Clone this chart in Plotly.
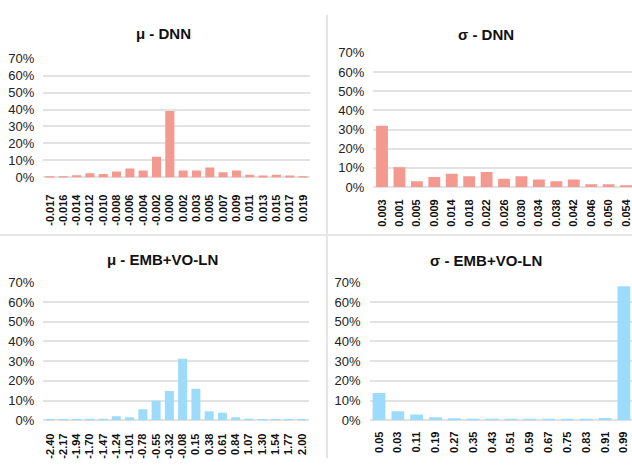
import plotly.graph_objects as go

W, H = 632, 470

mu_dnn_cats = ["-0.017", "-0.016", "-0.014", "-0.012", "-0.010", "-0.008", "-0.006", "-0.004",
               "-0.002", "0.000", "0.002", "0.003", "0.005", "0.007", "0.009", "0.011",
               "0.013", "0.015", "0.017", "0.019"]
mu_dnn_vals = [0.5, 0.5, 1.2, 2.5, 2.0, 3.4, 5.3, 4.0, 12.1, 39.1, 4.0, 4.0, 5.9, 3.0, 4.0,
               1.5, 1.1, 1.5, 1.1, 0.5]

sig_dnn_cats = ["0.003", "0.001", "0.005", "0.009", "0.014", "0.018", "0.022", "0.026", "0.030",
                "0.034", "0.038", "0.042", "0.046", "0.050", "0.054"]
sig_dnn_vals = [32.0, 10.4, 3.0, 5.2, 6.9, 5.7, 7.9, 4.4, 5.7, 4.0, 3.0, 4.0, 1.5, 1.5, 1.0]

mu_emb_cats = ["-2.40", "-2.17", "-1.94", "-1.70", "-1.47", "-1.24", "-1.01", "-0.78", "-0.55",
               "-0.32", "-0.08", "0.15", "0.38", "0.61", "0.84", "1.07", "1.30", "1.54",
               "1.77", "2.00"]
mu_emb_vals = [0.3, 0.3, 0.3, 0.8, 0.8, 2.1, 1.6, 5.7, 10.0, 14.9, 31.3, 16.0, 4.6, 3.9, 1.6,
               0.8, 0.3, 0.3, 0.3, 0.3]

sig_emb_cats = ["0.05", "0.03", "0.11", "0.19", "0.27", "0.35", "0.43", "0.51", "0.59", "0.67",
                "0.75", "0.83", "0.91", "0.99"]
sig_emb_vals = [13.9, 4.6, 3.0, 1.6, 1.1, 0.8, 0.8, 0.8, 0.8, 0.8, 0.8, 0.8, 1.2, 68.0]

titles = ["μ - DNN", "σ - DNN", "μ - EMB+VO-LN", "σ - EMB+VO-LN"]

RED = "#f4998f"
BLUE = "#9ddbfb"
GRID = "#e2e2e2"
FONT = "Liberation Sans, Arial, sans-serif"

panels = [
    # cats, vals, color, x-domain(px), y-domain(px top,bottom), x range max, standoff, title pos
    (mu_dnn_cats, mu_dnn_vals, RED, (43.3, 309.7), (53, 176), None, 14, (163, 27)),
    (sig_dnn_cats, sig_dnn_vals, RED, (373.3, 632), (47, 186), 14.34, 9, (486, 28)),
    (mu_emb_cats, mu_emb_vals, BLUE, (43.4, 308.6), (284, 427), None, 10, (162, 261)),
    (sig_emb_cats, sig_emb_vals, BLUE, (369.6, 632), (284, 427), 13.43, 8, (486, 262)),
]

fig = go.Figure()
annotations = []
for i, (cats, vals, col, xd, yd, xmax, stand, tpos) in enumerate(panels, start=1):
    xa = "x" if i == 1 else f"x{i}"
    ya = "y" if i == 1 else f"y{i}"
    fig.add_trace(go.Bar(x=cats, y=[v / 100 for v in vals], marker=dict(color=col, line=dict(width=0)),
                         xaxis=xa, yaxis=ya, showlegend=False, hoverinfo="skip"))
    xr = [-0.5, xmax if xmax is not None else len(cats) - 0.5]
    xk = "xaxis" if i == 1 else f"xaxis{i}"
    yk = "yaxis" if i == 1 else f"yaxis{i}"
    fig.layout[xk] = dict(domain=[xd[0] / W, xd[1] / W], anchor=ya, type="category",
                          range=xr, tickangle=-90, showgrid=False, zeroline=False,
                          showline=False, ticks="", ticklabelstandoff=stand,
                          tickfont=dict(family=FONT, size=11, color="#111", weight="bold"),
                          fixedrange=True)
    fig.layout[yk] = dict(domain=[1 - yd[1] / H, 1 - yd[0] / H], anchor=xa,
                          range=[0, 0.702], dtick=0.1, tickformat=".0%",
                          showgrid=True, gridcolor=GRID, gridwidth=1.5,
                          zeroline=True, zerolinecolor=GRID, zerolinewidth=1.5,
                          showline=False, ticks="", ticklabelstandoff=8,
                          tickfont=dict(family=FONT, size=13, color="#222"),
                          fixedrange=True)
    annotations.append(dict(text=f"<b>{titles[i-1]}</b>", x=tpos[0] / W, y=1 - tpos[1] / H,
                            xref="paper", yref="paper", xanchor="center", yanchor="middle",
                            showarrow=False, font=dict(family=FONT, size=15, color="#111")))

shapes = [
    dict(type="line", xref="paper", yref="paper", x0=327 / W, x1=327 / W, y0=1 - 8 / H, y1=1 - 466 / H,
         line=dict(color="#e6e6e6", width=2)),
    dict(type="line", xref="paper", yref="paper", x0=0, x1=1, y0=1 - 235.5 / H, y1=1 - 235.5 / H,
         line=dict(color="#e6e6e6", width=2)),
]

fig.update_layout(width=W, height=H, margin=dict(l=0, r=0, t=0, b=0),
                  paper_bgcolor="white", plot_bgcolor="white", bargap=0.32,
                  annotations=annotations, shapes=shapes, font=dict(family=FONT))

fig.write_html("out.html", config={"displayModeBar": False},
               post_script="document.body.style.margin='0';document.body.style.padding='0';")
